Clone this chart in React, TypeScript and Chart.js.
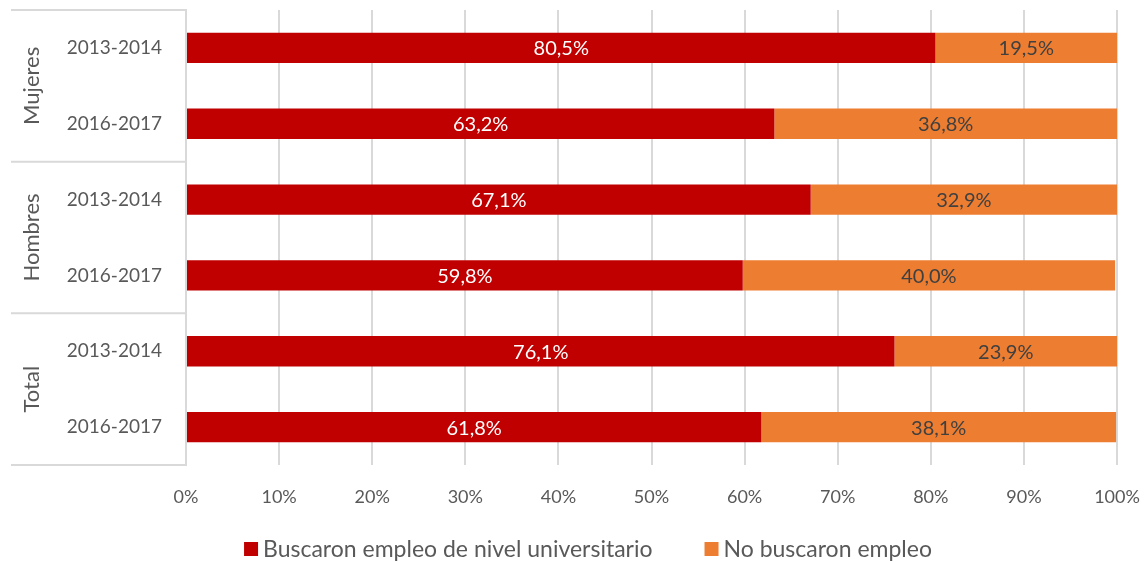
import React, { useEffect, useRef } from "react";
import { Chart, registerables } from "chart.js";

Chart.register(...registerables);

const categories = ["2013-2014", "2016-2017", "2013-2014", "2016-2017", "2013-2014", "2016-2017"];
const groups = ["Mujeres", "Hombres", "Total"];
const buscaron = [80.5, 63.2, 67.1, 59.8, 76.1, 61.8];
const noBuscaron = [19.5, 36.8, 32.9, 40.0, 23.9, 38.1];
const seriesNames = ["Buscaron empleo de nivel universitario", "No buscaron empleo"];
const seriesColors = ["#C00000", "#ED7D31"];
const xTicks = [0, 10, 20, 30, 40, 50, 60, 70, 80, 90, 100];

const FONT = "Lato, 'Open Sans', sans-serif";
const GRID = "#d9d9d9";
const TEXT = "#595959";

const fmt = (v: number) => v.toFixed(1).replace(".", ",") + "%";

const labelsPlugin = {
  id: "barLabels",
  afterDatasetsDraw(chart: any) {
    const ctx = chart.ctx;
    ctx.save();
    ctx.font = `20px ${FONT}`;
    ctx.textAlign = "center";
    ctx.textBaseline = "middle";
    chart.data.datasets.forEach((ds: any, di: number) => {
      const meta = chart.getDatasetMeta(di);
      meta.data.forEach((bar: any, i: number) => {
        const v = ds.data[i];
        const cx = (bar.x + bar.base) / 2;
        ctx.fillStyle = di === 0 ? "#ffffff" : "#404040";
        ctx.fillText(fmt(v), cx, bar.y + 1);
      });
    });
    ctx.restore();
  },
};

const groupPlugin = {
  id: "groupLabels",
  afterDraw(chart: any) {
    const ctx = chart.ctx;
    const y = chart.scales.y;
    const area = chart.chartArea;
    const left = 11;
    ctx.save();
    ctx.strokeStyle = GRID;
    ctx.lineWidth = 2;
    const bounds = [area.top];
    for (let g = 1; g < groups.length; g++) {
      const a = y.getPixelForTick(g * 2 - 1);
      const b = y.getPixelForTick(g * 2);
      bounds.push((a + b) / 2);
    }
    bounds.push(area.bottom);
    bounds.forEach((by) => {
      ctx.beginPath();
      ctx.moveTo(left, by);
      ctx.lineTo(area.left, by);
      ctx.stroke();
    });
    ctx.fillStyle = TEXT;
    ctx.font = `22px ${FONT}`;
    ctx.textAlign = "center";
    ctx.textBaseline = "middle";
    groups.forEach((g, i) => {
      const cy = (bounds[i] + bounds[i + 1]) / 2;
      ctx.save();
      ctx.translate(32, cy);
      ctx.rotate(-Math.PI / 2);
      ctx.fillText(g, 0, 0);
      ctx.restore();
    });

    // legend
    ctx.font = `23px ${FONT}`;
    ctx.textAlign = "left";
    const box = 14;
    const gapText = 5;
    const gapItem = 52;
    const widths = seriesNames.map((n) => ctx.measureText(n).width);
    const total = widths.reduce((s, w) => s + box + gapText + w, 0) + gapItem * (seriesNames.length - 1);
    let x = 588 - total / 2;
    const ly = 549;
    seriesNames.forEach((n, i) => {
      ctx.fillStyle = seriesColors[i];
      ctx.fillRect(x, ly - box / 2, box, box);
      ctx.fillStyle = TEXT;
      ctx.fillText(n, x + box + gapText, ly + 1);
      x += box + gapText + widths[i] + gapItem;
    });
    ctx.restore();
  },
};

export default function App() {
  const ref = useRef<HTMLCanvasElement>(null);
  useEffect(() => {
    if (!ref.current) return;
    const chart = new Chart(ref.current, {
      type: "bar",
      data: {
        labels: categories,
        datasets: [
          { label: seriesNames[0], data: buscaron, backgroundColor: seriesColors[0], barPercentage: 0.4, categoryPercentage: 1 },
          { label: seriesNames[1], data: noBuscaron, backgroundColor: seriesColors[1], barPercentage: 0.4, categoryPercentage: 1 },
        ],
      },
      options: {
        indexAxis: "y",
        animation: false,
        responsive: false,
        maintainAspectRatio: false,
        layout: { padding: { left: 11, right: 28, top: 10, bottom: 52 } },
        scales: {
          x: {
            stacked: true,
            min: 0,
            max: 100,
            afterBuildTicks: (s: any) => {
              s.ticks = xTicks.map((v) => ({ value: v }));
            },
            ticks: {
              callback: (v: any) => v + "%",
              color: TEXT,
              font: { family: FONT, size: 18 },
              padding: 21,
              maxRotation: 0,
            },
            grid: { color: GRID, lineWidth: 2, drawTicks: false },
            border: { display: false },
            afterFit: (s: any) => {
              s.height = 45;
              s.paddingLeft = 0;
              s.paddingRight = 0;
            },
          },
          y: {
            stacked: true,
            ticks: {
              color: TEXT,
              font: { family: FONT, size: 19 },
              padding: 24,
            },
            grid: { display: false, drawTicks: false },
            border: { display: true, color: GRID, width: 2 },
            afterFit: (s: any) => {
              s.width = 175;
              s.paddingTop = 0;
              s.paddingBottom = 0;
            },
          },
        },
        plugins: {
          legend: { display: false },
          tooltip: { enabled: false },
        },
      },
      plugins: [labelsPlugin, groupPlugin],
    } as any);
    return () => chart.destroy();
  }, []);
  return (
    <div style={{ position: "fixed", left: 0, top: 0, width: 1145, height: 562, background: "#fff" }}>
      <canvas ref={ref} width={1145} height={562} style={{ width: 1145, height: 562 }} />
    </div>
  );
}
